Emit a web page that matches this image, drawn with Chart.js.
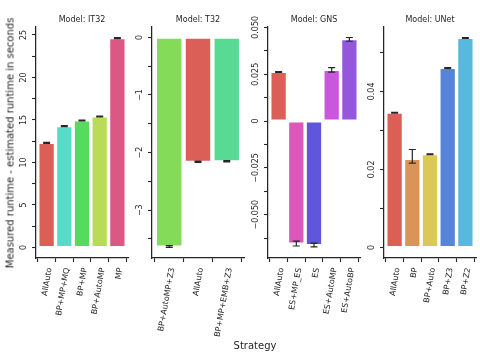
<!DOCTYPE html>
<html>
<head>
<meta charset="utf-8">
<script src="https://cdn.jsdelivr.net/npm/chart.js@4.4.1/dist/chart.umd.min.js"></script>
<style>
  body { margin: 0; background: #fff; }
  #wrap { position: relative; width: 480px; height: 360px; overflow: hidden; font-family: 'DejaVu Sans', sans-serif; color: #262626; }
  #wrap canvas { position: absolute; top: 0; }
  .ylab { position: absolute; left: 10px; top: 143px; transform: translate(-50%, -50%) rotate(-90deg); font-size: 10px; white-space: nowrap; color: #262626; }
  .xlab { position: absolute; left: 255px; top: 345px; transform: translate(-50%, -50%); font-size: 10px; white-space: nowrap; color: #262626; }
</style>
</head>
<body>
<div id="wrap">
  <canvas id="c0" width="128" height="360" style="left:6px"></canvas>
  <canvas id="c1" width="128" height="360" style="left:122px"></canvas>
  <canvas id="c2" width="128" height="360" style="left:238px"></canvas>
  <canvas id="c3" width="128" height="360" style="left:354px"></canvas>
  <div class="ylab">Measured runtime - estimated runtime in seconds</div>
  <div class="xlab">Strategy</div>
</div>
<script>
// strategies in alphabetical order -> seaborn hls palette
const strategies = ['AllAuto', 'BP', 'BP+Auto', 'BP+AutoMP', 'BP+AutoMP+Z3', 'BP+MP', 'BP+MP+EMB+Z3', 'BP+MP+MQ',
  'BP+Z2', 'BP+Z3', 'ES', 'ES+AutoBP', 'ES+AutoMP', 'ES+MP_ES', 'MP'];
const palette = ['#db5f57', '#db9457', '#dbc857', '#b9db57', '#84db57', '#57db5f', '#57db94', '#57dbc8',
  '#57b9db', '#5784db', '#5f57db', '#9457db', '#c857db', '#db57b9', '#db5784'];

// Model: IT32
const it32Cats = ['AllAuto', 'BP+MP+MQ', 'BP+MP', 'BP+AutoMP', 'MP'];
const it32Values = [12.3, 14.27, 14.94, 15.41, 24.62];
const it32Low = [12.25, 14.22, 14.9, 15.37, 24.57];
const it32High = [12.35, 14.32, 14.98, 15.45, 24.67];
const it32Ticks = [0, 5, 10, 15, 20, 25];
const it32TickLabels = ['0', '5', '10', '15', '20', '25'];
const it32Minor = [2.5, 7.5, 12.5, 17.5, 22.5];

// Model: T32
const t32Cats = ['BP+AutoMP+Z3', 'AllAuto', 'BP+MP+EMB+Z3'];
const t32Values = [-3.63, -2.16, -2.15];
const t32Low = [-3.645, -2.17, -2.16];
const t32High = [-3.615, -2.15, -2.14];
const t32Ticks = [0, -1, -2, -3];
const t32TickLabels = ['0', '\u22121', '\u22122', '\u22123'];
const t32Minor = [-0.5, -1.5, -2.5, -3.5];

// Model: GNS
const gnsCats = ['AllAuto', 'ES+MP_ES', 'ES', 'ES+AutoMP', 'ES+AutoBP'];
const gnsValues = [0.0262, -0.0654, -0.0662, 0.0273, 0.0436];
const gnsLow = [0.0260, -0.0667, -0.0672, 0.0261, 0.0426];
const gnsHigh = [0.0264, -0.0641, -0.0652, 0.0285, 0.0446];
const gnsTicks = [0.05, 0.025, 0, -0.025, -0.05];
const gnsTickLabels = ['0.050', '0.025', '0', '\u22120.025', '\u22120.050'];
const gnsMinor = [0.0375, 0.0125, -0.0125, -0.0375, -0.0625];

// Model: UNet
const unetCats = ['AllAuto', 'BP', 'BP+Auto', 'BP+Z3', 'BP+Z2'];
const unetValues = [0.0345, 0.0227, 0.0239, 0.046, 0.0537];
const unetLow = [0.0344, 0.0216, 0.0238, 0.0459, 0.0536];
const unetHigh = [0.0346, 0.0251, 0.024, 0.0461, 0.0538];
const unetTicks = [0, 0.02, 0.04];
const unetTickLabels = ['0', '0.02', '0.04'];
const unetMinor = [0.01, 0.03, 0.05];

const INK = '#262626';
const FONT = "'DejaVu Sans', sans-serif";

const panels = [
  { title: 'Model: IT32', cats: it32Cats, values: it32Values, low: it32Low, high: it32High,
    ticks: it32Ticks, tickLabels: it32TickLabels, minor: it32Minor, yMin: -1.24, yMax: 25.93 },
  { title: 'Model: T32', cats: t32Cats, values: t32Values, low: t32Low, high: t32High,
    ticks: t32Ticks, tickLabels: t32TickLabels, minor: t32Minor, yMin: -3.83, yMax: 0.18 },
  { title: 'Model: GNS', cats: gnsCats, values: gnsValues, low: gnsLow, high: gnsHigh,
    ticks: gnsTicks, tickLabels: gnsTickLabels, minor: gnsMinor, yMin: -0.0731, yMax: 0.0502 },
  { title: 'Model: UNet', cats: unetCats, values: unetValues, low: unetLow, high: unetHigh,
    ticks: unetTicks, tickLabels: unetTickLabels, minor: unetMinor, yMin: -0.0027, yMax: 0.0565 }
];

// rotated y tick labels, like matplotlib rotation=90
const yTickLabelPlugin = {
  id: 'yTickLabels',
  afterDraw(chart, args, opts) {
    const ys = chart.scales.y, ctx = chart.ctx;
    ctx.save();
    ctx.font = '8px ' + FONT;
    ctx.fillStyle = INK;
    ctx.textAlign = 'center';
    ctx.textBaseline = 'alphabetic';
    opts.values.forEach(function(v, i) {
      ctx.save();
      ctx.translate(chart.chartArea.left - 10, ys.getPixelForValue(v));
      ctx.rotate(-Math.PI / 2);
      ctx.fillText(opts.labels[i], 0, 0);
      ctx.restore();
    });
    ctx.restore();
  }
};

const errorBarPlugin = {
  id: 'errorBars',
  afterDatasetsDraw(chart, args, opts) {
    const xs = chart.scales.x, ys = chart.scales.y, ctx = chart.ctx;
    ctx.save();
    ctx.strokeStyle = INK;
    ctx.lineWidth = 1.2;
    opts.low.forEach(function(lo, i) {
      const x = xs.getPixelForValue(i);
      const y1 = ys.getPixelForValue(lo);
      const y2 = ys.getPixelForValue(opts.high[i]);
      ctx.beginPath();
      ctx.moveTo(x, y1); ctx.lineTo(x, y2);
      ctx.moveTo(x - 3.5, y1); ctx.lineTo(x + 3.5, y1);
      ctx.moveTo(x - 3.5, y2); ctx.lineTo(x + 3.5, y2);
      ctx.stroke();
    });
    ctx.restore();
  }
};

panels.forEach(function(p, k) {
  const n = p.cats.length;
  const ctx = document.getElementById('c' + k).getContext('2d');
  new Chart(ctx, {
    type: 'bar',
    data: {
      datasets: [{
        data: p.values.map(function(v, i) { return { x: i, y: v }; }),
        backgroundColor: p.cats.map(function(c) { return palette[strategies.indexOf(c)]; }),
        borderColor: 'rgba(255,255,255,0.55)',
        borderWidth: 1,
        borderSkipped: false,
        barPercentage: 0.92,
        categoryPercentage: 1
      }]
    },
    options: {
      responsive: false,
      animation: false,
      layout: { padding: { left: 0, right: 6, top: 0, bottom: 0 } },
      plugins: {
        legend: { display: false },
        tooltip: { enabled: false },
        title: {
          display: true, text: p.title, fullSize: false, color: INK,
          font: { size: 8, family: FONT, weight: 'normal' },
          padding: { top: 15, bottom: 2.4 }
        },
        yTickLabels: { values: p.ticks, labels: p.tickLabels },
        errorBars: { low: p.low, high: p.high }
      },
      scales: {
        x: {
          type: 'linear', min: -0.6, max: n - 0.4, offset: false,
          afterBuildTicks: function(axis) { axis.ticks = p.cats.map(function(c, i) { return { value: i }; }); },
          afterFit: function(axis) { axis.height = 102; },
          grid: { drawOnChartArea: false, drawTicks: true, tickLength: 4, tickColor: INK, tickWidth: 1.1 },
          border: { display: true, color: INK, width: 1.25 },
          ticks: {
            autoSkip: false, minRotation: 80, maxRotation: 80, padding: 5, labelOffset: 3,
            color: INK, font: { size: 8, family: FONT },
            callback: function(v) { return p.cats[v]; }
          }
        },
        y: {
          type: 'linear', min: p.yMin, max: p.yMax,
          afterBuildTicks: function(axis) { axis.ticks = p.ticks.concat(p.minor).map(function(v) { return { value: v }; }); },
          afterFit: function(axis) { axis.width = 30; },
          grid: { drawOnChartArea: false, drawTicks: true, tickLength: 4, tickColor: INK, tickWidth: 1.1 },
          border: { display: true, color: INK, width: 1.25 },
          ticks: { display: false }
        }
      }
    },
    plugins: [yTickLabelPlugin, errorBarPlugin]
  });
});
</script>
</body>
</html>
